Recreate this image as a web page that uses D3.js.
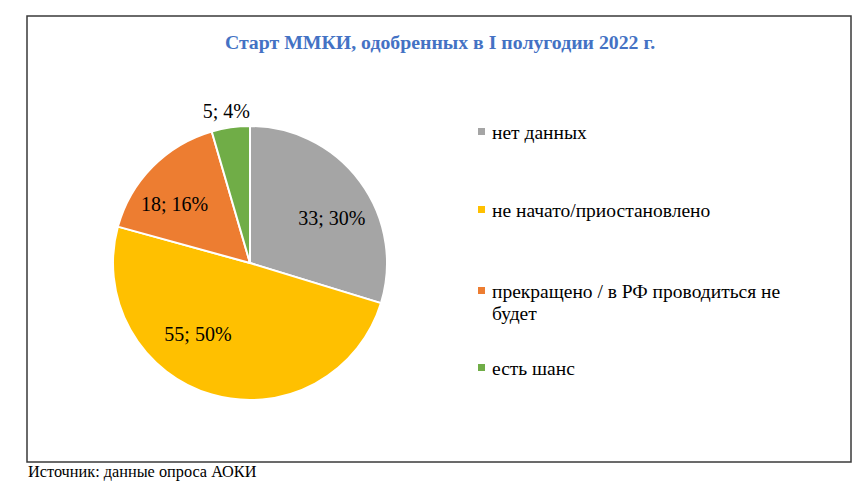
<!DOCTYPE html>
<html>
<head>
<meta charset="utf-8">
<script src="https://cdn.jsdelivr.net/npm/d3@7"></script>
<style>
  html, body { margin: 0; padding: 0; background: #fff; }
  svg { display: block; }
</style>
</head>
<body>
<svg id="chart" width="867" height="488" font-family="'Liberation Serif', 'Times New Roman', Times, serif"></svg>
<script>
// ---- data ----
const categories = ["нет данных", "не начато/приостановлено", "прекращено / в РФ проводиться не будет", "есть шанс"];
const legendLines = [["нет данных"], ["не начато/приостановлено"], ["прекращено / в РФ проводиться не", "будет"], ["есть шанс"]];
const counts = [33, 55, 18, 5];
const percents = [30, 50, 16, 4];
const colors = ["#A5A5A5", "#FFC000", "#ED7D31", "#70AD47"];
const titleText = "Старт ММКИ, одобренных в I полугодии 2022 г.";
const sourceText = "Источник: данные опроса АОКИ";

// ---- layout ----
const svg = d3.select("#chart");
const box = { x: 27, y: 16, w: 824, h: 446 };
const cx = 250, cy = 263, R = 137;
const serif = "'Liberation Serif', 'Times New Roman', Times, serif";
// per-slice label nudges (px) relative to the centroid, mimicking Excel "best fit"
const labelNudge = [[7, 10], [-26, -18], [-9, 6], [-2, 0]];

svg.append("rect")
  .attr("x", box.x).attr("y", box.y).attr("width", box.w).attr("height", box.h)
  .attr("fill", "#fff").attr("stroke", "#3a3a3a").attr("stroke-width", 1.5);

svg.append("text")
  .attr("x", 440).attr("y", 49)
  .attr("text-anchor", "middle")
  .attr("font-family", serif)
  .attr("font-weight", "bold")
  .attr("font-size", 19.8)
  .attr("fill", "#4472C4")
  .text(titleText);

const data = categories.map((c, i) => ({ cat: c, count: counts[i], pct: percents[i], color: colors[i], i }));

const pie = d3.pie().value(d => d.count).sort(null);
const arcs = pie(data);
const arc = d3.arc().innerRadius(0).outerRadius(R);
const labelArc = d3.arc().innerRadius(R * 0.68).outerRadius(R * 0.68);
const outerArc = d3.arc().innerRadius(R + 17).outerRadius(R + 17);

const g = svg.append("g").attr("transform", `translate(${cx},${cy})`);
g.selectAll("path.slice").data(arcs).enter().append("path")
  .attr("class", "slice")
  .attr("d", arc)
  .attr("fill", d => d.data.color)
  .attr("stroke", "#fff")
  .attr("stroke-width", 2)
  .attr("stroke-linejoin", "round");

g.selectAll("text.lbl").data(arcs).enter().append("text")
  .attr("class", "lbl")
  .attr("transform", d => {
    const inside = (d.endAngle - d.startAngle) > 0.4;
    const c = inside ? labelArc.centroid(d) : outerArc.centroid(d);
    const n = labelNudge[d.index];
    return `translate(${c[0] + n[0]},${c[1] + n[1]})`;
  })
  .attr("text-anchor", "middle")
  .attr("dy", "0.35em")
  .attr("font-family", serif)
  .attr("font-size", 20)
  .attr("fill", "#000")
  .text(d => `${d.data.count}; ${d.data.pct}%`);

// legend
const legRowBase = [139, 217, 298, 375];
const leg = svg.append("g");
legendLines.forEach((lines, i) => {
  const y = legRowBase[i];
  leg.append("rect")
    .attr("x", 478).attr("y", y - 11).attr("width", 7).attr("height", 7)
    .attr("fill", colors[i]);
  lines.forEach((ln, j) => {
    leg.append("text")
      .attr("x", 492).attr("y", y + j * 22)
      .attr("font-family", serif)
      .attr("font-size", 19.5)
      .attr("fill", "#000")
      .text(ln);
  });
});

svg.append("text")
  .attr("x", 28).attr("y", 477)
  .attr("font-family", serif)
  .attr("font-size", 16.3)
  .attr("fill", "#000")
  .text(sourceText);
</script>
</body>
</html>
